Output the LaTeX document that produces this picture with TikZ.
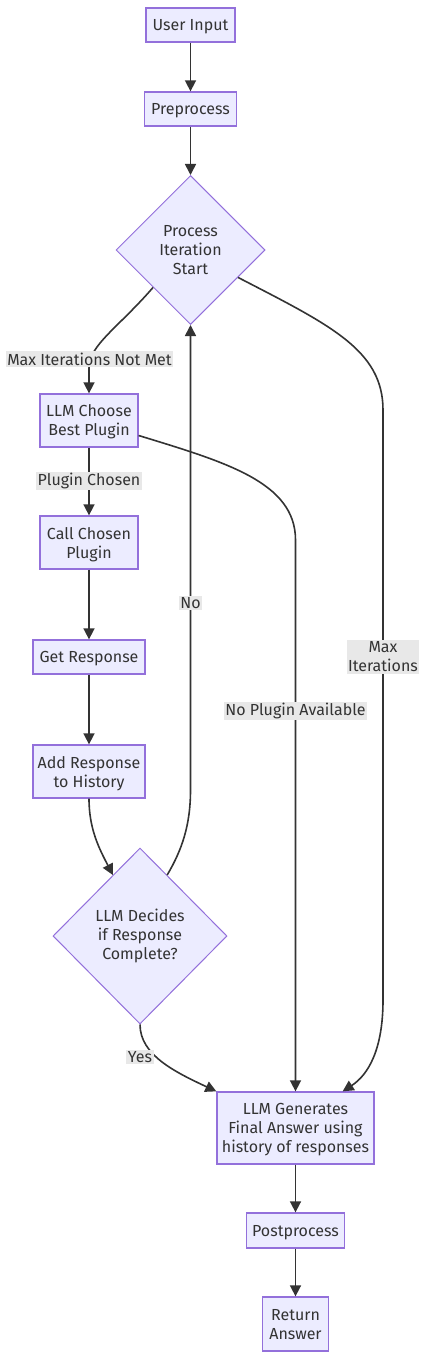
\documentclass[tikz,border=0pt]{standalone}
\usepackage{fontspec}
\setmainfont{Fira Sans}
\usetikzlibrary{shapes.geometric,arrows.meta}
\definecolor{nodefill}{HTML}{ECECFF}
\definecolor{nodeline}{HTML}{9370DB}
\definecolor{edgecol}{HTML}{333333}
\definecolor{lblbg}{HTML}{E8E8E8}
\definecolor{txt}{HTML}{333333}
\begin{document}
\begin{tikzpicture}[x=1pt,y=-1pt,
 font=\fontsize{16}{19}\selectfont, text=txt,
 box/.style={draw=nodeline, fill=nodefill, line width=1.3pt, inner sep=0pt, align=center, rectangle, text depth=0pt},
 dia/.style={draw=nodeline, fill=nodefill, line width=1pt, inner sep=0pt, align=center, diamond, aspect=1},
 edge/.style={draw=edgecol, line width=1.6pt, -{Triangle[length=11pt,width=11pt]}},
 lbl/.style={fill=lblbg, inner sep=1.5pt, align=center}
]
\useasboundingbox (0,0) rectangle (426,1359);
\node[box, minimum width=89, minimum height=34] (ui) at (190.5,25) {User Input};
\node[box, minimum width=92, minimum height=34] (pre) at (190.5,109) {Preprocess};
\node[dia, minimum width=149, minimum height=149] (proc) at (190.5,250) {Process\\Iteration\\Start};
\node[box, minimum width=98, minimum height=53] (choose) at (89,420.5) {LLM Choose\\Best Plugin};
\node[box, minimum width=98, minimum height=53] (call) at (89,542.5) {Call Chosen\\Plugin};
\node[box, minimum width=112, minimum height=34] (get) at (89,657) {Get Response};
\node[box, minimum width=112, minimum height=53] (add) at (89,771.5) {Add Response\\to History};
\node[dia, minimum width=174, minimum height=176] (dec) at (140,936) {LLM Decides\\if Response\\Complete?};
\node[box, minimum width=157, minimum height=72] (gen) at (295.5,1128) {LLM Generates\\Final Answer using\\history of responses};
\node[box, minimum width=98, minimum height=35] (post) at (295.5,1230.5) {Postprocess};
\node[box, minimum width=66, minimum height=54] (ret) at (295.5,1324) {Return\\Answer};

\draw[edge] (ui) -- (pre);
\draw[edge] (pre) -- (proc);
\draw[edge] (proc.south west) .. controls (118,328) and (89,345) .. (89,368) -- (choose.north);
\draw[edge] (choose) -- (call);
\draw[edge] (call) -- (get);
\draw[edge] (get) -- (add);
\draw[edge] (add.south) .. controls (89,830) and (100,850) .. (dec.114);
\draw[edge] (dec.66) .. controls (182,850) and (190.5,825) .. (190.5,790) -- (proc.south);
\draw[edge] ([yshift=-15pt]choose.east) .. controls (225,462) and (295.5,482) .. (295.5,540) -- (gen.north);
\draw[edge] (proc.-30) .. controls (330,325) and (383,350) .. (383,410) -- (383,1000) .. controls (383,1050) and (368,1075) .. ([xshift=-32pt]gen.north east);
\draw[edge] (dec.south) .. controls (140,1055) and (175,1072) .. (gen.north west);
\draw[edge] (gen) -- (post);
\draw[edge] (post) -- (ret);

\node[lbl] (l1) at (89.5,359) {Max Iterations Not Met};
\node[lbl] (l2) at (89,481) {Plugin Chosen};
\node[lbl] (l3) at (190.5,603) {No};
\node[lbl] (l4) at (383,657) {Max\\Iterations};
\node[lbl] (l5) at (295.5,711) {No Plugin Available};
\node[lbl] (l6) at (140,1057) {Yes};
\end{tikzpicture}
\end{document}
